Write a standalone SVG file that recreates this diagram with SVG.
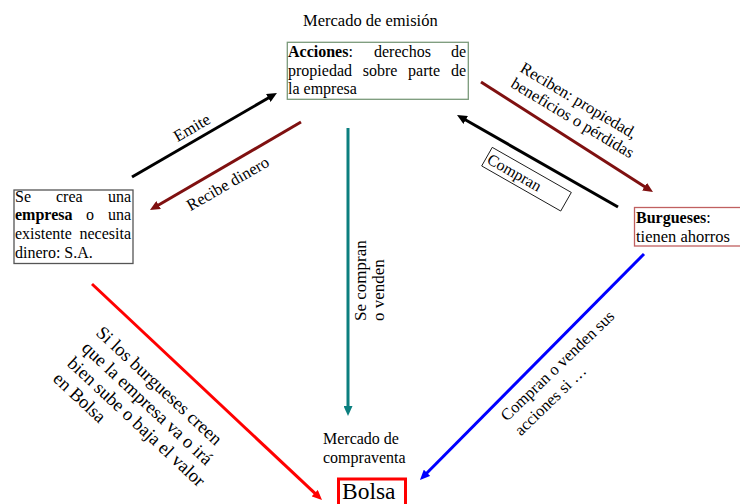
<svg xmlns="http://www.w3.org/2000/svg" width="740" height="504" viewBox="0 0 740 504">
<style>
text{font-family:"Liberation Serif","Times New Roman",serif;fill:#000;font-size:16px}
.b{font-family:"Liberation Serif","DejaVu Serif",serif;font-weight:bold}
.box{fill:#fff;stroke-width:1.3}
.arr{fill:none;stroke-width:3}
</style>
<defs>
<marker id="mk" markerUnits="userSpaceOnUse" markerWidth="10" markerHeight="9" refX="3" refY="4.5" orient="auto"><path d="M0,0 L10,4.5 L0,9 z" fill="#000"/></marker>
<marker id="mm" markerUnits="userSpaceOnUse" markerWidth="10" markerHeight="9" refX="3" refY="4.5" orient="auto"><path d="M0,0 L10,4.5 L0,9 z" fill="#7f1010"/></marker>
<marker id="mt" markerUnits="userSpaceOnUse" markerWidth="10" markerHeight="9" refX="3" refY="4.5" orient="auto"><path d="M0,0 L10,4.5 L0,9 z" fill="#0b7f7f"/></marker>
<marker id="mr" markerUnits="userSpaceOnUse" markerWidth="10" markerHeight="9" refX="3" refY="4.5" orient="auto"><path d="M0,0 L10,4.5 L0,9 z" fill="#ff0000"/></marker>
<marker id="mb" markerUnits="userSpaceOnUse" markerWidth="10" markerHeight="9" refX="3" refY="4.5" orient="auto"><path d="M0,0 L10,4.5 L0,9 z" fill="#0000ff"/></marker>
</defs>
<rect width="740" height="504" fill="#fff"/>

<g id="connectors">
<line class="arr" x1="132" y1="177" x2="270.9" y2="96.5" stroke="#000" stroke-width="2.5" marker-end="url(#mk)"/>
<line class="arr" x1="301" y1="122" x2="156" y2="206.5" stroke="#7f1010" marker-end="url(#mm)"/>
<line class="arr" x1="618" y1="207" x2="463.1" y2="118.5" stroke="#000" stroke-width="2.5" marker-end="url(#mk)"/>
<line class="arr" x1="481" y1="82" x2="647.1" y2="188.2" stroke="#7f1010" marker-end="url(#mm)"/>
<line class="arr" x1="348" y1="128" x2="348" y2="409" stroke="#0b7f7f" marker-end="url(#mt)"/>
<line class="arr" x1="92" y1="284" x2="316.9" y2="495.2" stroke="#ff0000" marker-end="url(#mr)"/>
<line class="arr" x1="644" y1="254" x2="424.9" y2="475" stroke="#0000ff" marker-end="url(#mb)"/>

<text transform="translate(192,128) rotate(-30)" text-anchor="middle" y="5" style="font-size:16.5px">Emite</text>
<text transform="translate(228,184) rotate(-30)" text-anchor="middle" y="5" style="font-size:16.5px">Recibe dinero</text>
<g transform="translate(519,71) rotate(31)">
<text x="0" y="0" style="font-size:16.5px">Reciben: propiedad,</text>
<text x="0" y="18" style="font-size:16.5px">beneficios o pérdidas</text>
</g>
<g transform="translate(526.5,179.2) rotate(29.7)">
<rect x="-45.5" y="-10.7" width="91" height="21.4" fill="none" stroke="#000" stroke-width="0.8"/>
<text x="-43.5" y="5.5">Compran</text>
</g>
<g transform="translate(366,321) rotate(-90)">
<text x="0" y="0" style="font-size:17px">Se compran</text>
<text x="0" y="18" style="font-size:17px">o venden</text>
</g>
<g transform="translate(95,334) rotate(43)">
<text x="0" y="0" style="font-size:18.5px">Si los burgueses creen</text>
<text x="0" y="21" style="font-size:18.5px">que la empresa va o irá</text>
<text x="0" y="42" style="font-size:18.5px">bien sube o baja el valor</text>
<text x="0" y="63" style="font-size:18.5px">en Bolsa</text>
</g>
<g transform="translate(507,422) rotate(-44)">
<text x="0" y="0" style="font-size:16.5px">Compran o venden sus</text>
<text x="0" y="20" style="font-size:16.5px">acciones si …</text>
</g>
</g>

<g id="emision">
<text x="303" y="26" style="font-size:16.5px">Mercado de emisión</text>
</g>

<g id="acciones">
<rect class="box" x="287.3" y="42.3" width="181" height="57" stroke="#7a9a7a"/>
<text x="288" y="57"><tspan class="b">Acciones</tspan>:</text>
<text x="374" y="57">derechos</text>
<text x="466" y="57" text-anchor="end">de</text>
<text x="288" y="75.5">propiedad</text>
<text x="362.7" y="75.5">sobre</text>
<text x="408.1" y="75.5">parte</text>
<text x="466" y="75.5" text-anchor="end">de</text>
<text x="288" y="94">la empresa</text>
</g>

<g id="empresa">
<rect class="box" x="14" y="190" width="119" height="73.5" stroke="#555"/>
<text x="15" y="201.5">Se</text>
<text x="56" y="201.5">crea</text>
<text x="131" y="201.5" text-anchor="end">una</text>
<text x="15" y="220" class="b">empresa</text>
<text x="86" y="220">o</text>
<text x="131" y="220" text-anchor="end">una</text>
<text x="15" y="238.5">existente</text>
<text x="131" y="238.5" text-anchor="end">necesita</text>
<text x="15" y="257.5">dinero: S.A.</text>
</g>

<g id="burgueses">
<rect class="box" x="634.5" y="207.5" width="110" height="38.5" stroke="#c06060"/>
<text x="636" y="222.5"><tspan class="b">Burgueses</tspan>:</text>
<text x="636" y="241.5" style="font-size:16.5px">tienen ahorros</text>
</g>

<g id="compraventa">
<text x="323" y="444">Mercado de</text>
<text x="323" y="463">compraventa</text>
</g>

<g id="bolsa">
<rect x="338.5" y="479" width="67" height="40" fill="#fff" stroke="#ff0000" stroke-width="3"/>
<text x="342" y="498.5" style="font-size:23.5px">Bolsa</text>
</g>
</svg>
